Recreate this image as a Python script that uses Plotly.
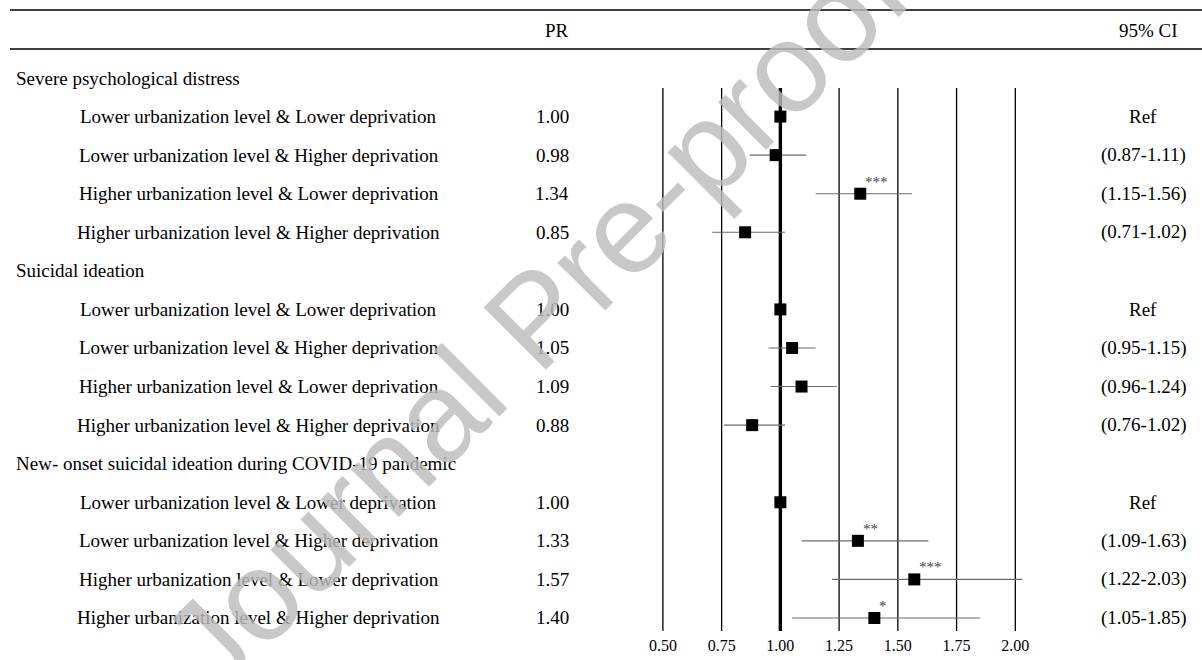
import plotly.graph_objects as go

# ---------------- data ----------------
groups = ["Severe psychological distress",
          "Suicidal ideation",
          "New- onset suicidal ideation during COVID-19 pandemic"]
categories = ["Lower urbanization level & Lower deprivation",
              "Lower urbanization level & Higher deprivation",
              "Higher urbanization level & Lower deprivation",
              "Higher urbanization level & Higher deprivation"]

pr_distress = [1.00, 0.98, 1.34, 0.85]
lo_distress = [None, 0.87, 1.15, 0.71]
hi_distress = [None, 1.11, 1.56, 1.02]
sig_distress = ["", "", "***", ""]

pr_suicidal = [1.00, 1.05, 1.09, 0.88]
lo_suicidal = [None, 0.95, 0.96, 0.76]
hi_suicidal = [None, 1.15, 1.24, 1.02]
sig_suicidal = ["", "", "", ""]

pr_newonset = [1.00, 1.33, 1.57, 1.40]
lo_newonset = [None, 1.09, 1.22, 1.05]
hi_newonset = [None, 1.63, 2.03, 1.85]
sig_newonset = ["", "**", "***", "*"]

ticks = [0.50, 0.75, 1.00, 1.25, 1.50, 1.75, 2.00]
reference_value = 1.00
header_pr = "PR"
header_ci = "95% CI"
watermark = "Journal Pre-proof"

# ---------------- layout helpers ----------------
W, H = 1202, 660
ROW0_PX = 78.0       # pixel position of first group header row
ROW_PX = 38.57       # row spacing in pixels
PLOT_BOTTOM_PX = 634.0

def k_of(px):
    return (px - ROW0_PX) / ROW_PX

x_lo_px, x_hi_px = 662.0, 1015.0
ppu = (x_hi_px - x_lo_px) / (ticks[-1] - ticks[0])
xr = [0.45, 2.10]
dom = [(x_lo_px - (ticks[0] - xr[0]) * ppu) / W, (x_hi_px + (xr[1] - ticks[-1]) * ppu) / W]

serif = "Liberation Serif, Times New Roman, serif"
FS = 19

blocks = [
    (pr_distress, lo_distress, hi_distress, sig_distress),
    (pr_suicidal, lo_suicidal, hi_suicidal, sig_suicidal),
    (pr_newonset, lo_newonset, hi_newonset, sig_newonset),
]

ys, xs, eplus, eminus, pr_txt, ci_txt, labels, sigs = [], [], [], [], [], [], [], []
group_rows = []
row = 0
for g, (pr, lo, hi, sg) in zip(groups, blocks):
    group_rows.append((g, row))
    row += 1
    for c, p, l, h, s in zip(categories, pr, lo, hi, sg):
        ys.append(row)
        xs.append(p)
        eplus.append(0 if h is None else h - p)
        eminus.append(0 if l is None else p - l)
        pr_txt.append(f"{p:.2f}")
        ci_txt.append("Ref" if l is None else f"({l:.2f}-{h:.2f})")
        labels.append(c)
        sigs.append(s)
        row += 1

fig = go.Figure()
fig.add_trace(go.Scatter(
    x=xs, y=ys, mode="markers",
    marker=dict(symbol="square", size=12, color="black"),
    error_x=dict(type="data", symmetric=False, array=eplus, arrayminus=eminus,
                 width=0, thickness=1.1, color="#6a6a6a"),
    cliponaxis=False, showlegend=False, hoverinfo="skip"))

shapes = []
# horizontal rules
for px in (10, 49):
    shapes.append(dict(type="line", xref="paper", yref="y", x0=8 / W, x1=1.0,
                       y0=k_of(px), y1=k_of(px), line=dict(color="black", width=1.5)))
# vertical grid lines
for t in ticks:
    shapes.append(dict(type="line", xref="x", yref="y", x0=t, x1=t,
                       y0=k_of(88), y1=k_of(631), layer="below",
                       line=dict(color="black", width=3.4 if t == reference_value else 1.3)))

ann = []
ann.append(dict(x=556 / W, y=k_of(30), xref="paper", yref="y", text=header_pr, showarrow=False,
                xanchor="center", yanchor="middle", font=dict(family=serif, size=FS, color="black")))
ann.append(dict(x=1148 / W, y=k_of(30), xref="paper", yref="y", text=header_ci, showarrow=False,
                xanchor="center", yanchor="middle", font=dict(family=serif, size=FS, color="black")))
for g, r in group_rows:
    ann.append(dict(x=12 / W, y=r, xref="paper", yref="y", text=g, showarrow=False,
                    xanchor="left", yanchor="middle", font=dict(family=serif, size=FS, color="black")))
for y, lab, p, ci, s, xv in zip(ys, labels, pr_txt, ci_txt, sigs, xs):
    ann.append(dict(x=257 / W, y=y, xref="paper", yref="y", text=lab, showarrow=False,
                    xanchor="center", yanchor="middle", font=dict(family=serif, size=FS, color="black")))
    ann.append(dict(x=551 / W, y=y, xref="paper", yref="y", text=p, showarrow=False,
                    xanchor="center", yanchor="middle", font=dict(family=serif, size=FS, color="black")))
    ann.append(dict(x=1143 / W, y=y, xref="paper", yref="y", text=ci, showarrow=False,
                    xanchor="center", yanchor="middle", font=dict(family=serif, size=FS, color="black")))
    if s:
        ann.append(dict(x=xv, y=y, xref="x", yref="y", text=s, showarrow=False,
                        xanchor="left", yanchor="middle", xshift=3, yshift=12,
                        font=dict(family=serif, size=15, color="#444")))

# watermark
ann.append(dict(x=533 / W, y=k_of(318), xref="paper", yref="y", text=watermark, showarrow=False,
                xanchor="center", yanchor="middle", textangle=-45,
                font=dict(family="Liberation Sans, Arial, sans-serif", size=128,
                          color="rgba(188,188,188,0.82)")))

fig.update_layout(
    width=W, height=H, margin=dict(l=0, r=0, t=0, b=0),
    paper_bgcolor="white", plot_bgcolor="rgba(0,0,0,0)",
    shapes=shapes, annotations=ann,
    xaxis=dict(range=xr, domain=dom, showgrid=False, zeroline=False, showline=False,
               tickvals=ticks, ticktext=[f"{t:.2f}" for t in ticks], ticks="",
               tickfont=dict(family=serif, size=16, color="black"), fixedrange=True),
    yaxis=dict(range=[k_of(PLOT_BOTTOM_PX), k_of(0)], domain=[(H - PLOT_BOTTOM_PX) / H, 1],
               showgrid=False, zeroline=False, showline=False, showticklabels=False,
               fixedrange=True),
)

fig.write_html("out.html", config={"displayModeBar": False},
               post_script="document.body.style.margin='0';document.body.style.overflow='hidden';")
